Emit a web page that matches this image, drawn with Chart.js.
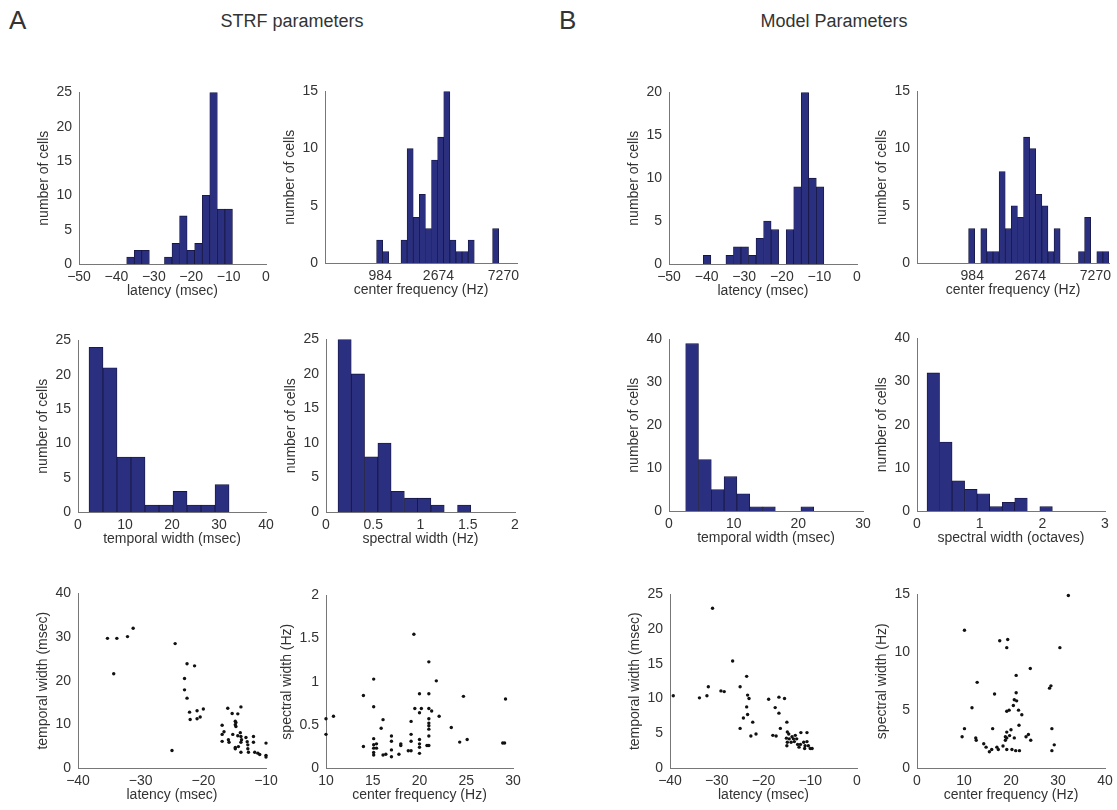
<!DOCTYPE html>
<html>
<head>
<meta charset="utf-8">
<script src="https://cdn.jsdelivr.net/npm/chart.js@4"></script>
<style>
body { margin:0; background:#fff; width:1117px; height:810px; position:relative; overflow:hidden;
       font-family:"Liberation Sans", Arial, sans-serif; color:#333; }
canvas { position:absolute; }
.lbl { position:absolute; white-space:nowrap; line-height:1; }
</style>
</head>
<body>
<div class="lbl" style="left:9px;top:7px;font-size:26px">A</div>
<div class="lbl" style="left:292px;top:12px;font-size:18px;transform:translateX(-50%)">STRF parameters</div>
<div class="lbl" style="left:559px;top:7px;font-size:26px">B</div>
<div class="lbl" style="left:834px;top:12px;font-size:18px;transform:translateX(-50%)">Model Parameters</div>
<script>
// ---- histogram data (bin centres and counts) ----
const strfLatCenters = [-36.24, -34.22, -32.2, -30.18, -28.16, -26.14, -24.12, -22.1, -20.08, -18.06, -16.04, -14.02, -12.0, -9.98];
const strfLatCounts  = [1, 2, 2, 0, 0, 1, 3, 7, 2, 3, 10, 25, 8, 8];

// frequency histograms use a log-frequency axis, one unit per bin
const freqTickPos    = [0.6, 10.13, 20.77];
const freqTickLabels = ['984', '2674', '7270'];
const strfFreqBins   = [0.5, 1.5, 2.5, 3.5, 4.5, 5.5, 6.5, 7.5, 8.5, 9.5, 10.5, 11.5, 12.5, 13.5, 14.5, 15.5, 16.5, 17.5, 18.5, 19.5];
const strfFreqCounts = [2, 1, 0, 0, 2, 10, 4, 6, 3, 9, 11, 15, 2, 1, 1, 2, 0, 0, 0, 3];

const modelLatCenters = [-39.87, -37.87, -35.86, -33.86, -31.86, -29.85, -27.85, -25.85, -23.84, -21.84, -19.84, -17.83, -15.83, -13.83, -11.82, -9.82];
const modelLatCounts  = [1, 0, 0, 1, 2, 2, 1, 3, 5, 4, 0, 4, 9, 20, 10, 9];

const modelFreqBins   = [0.5, 1.5, 2.5, 3.5, 4.5, 5.5, 6.5, 7.5, 8.5, 9.5, 10.5, 11.5, 12.5, 13.5, 14.5, 15.5, 16.5, 17.5, 18.5, 19.5, 20.5, 21.5, 22.5];
const modelFreqCounts = [3, 0, 3, 1, 1, 8, 3, 5, 4, 11, 10, 6, 5, 1, 3, 0, 0, 0, 1, 4, 0, 1, 1];

const strfTwCenters = [3.83, 6.81, 9.79, 12.77, 15.75, 18.73, 21.71, 24.69, 27.67, 30.65];
const strfTwCounts  = [24, 21, 8, 8, 1, 1, 3, 1, 1, 4];
const strfSwCenters = [0.197, 0.338, 0.478, 0.619, 0.759, 0.9, 1.04, 1.181, 1.321, 1.462];
const strfSwCounts  = [25, 20, 8, 10, 3, 2, 2, 1, 0, 1];

const modelTwCenters = [3.57, 5.55, 7.53, 9.51, 11.49, 13.47, 15.45, 17.43, 19.41, 21.39];
const modelTwCounts  = [39, 12, 5, 8, 4, 1, 1, 0, 0, 1];
const modelSwCenters = [0.26, 0.46, 0.66, 0.86, 1.06, 1.26, 1.46, 1.66, 1.86, 2.06];
const modelSwCounts  = [32, 16, 7, 5, 4, 1, 2, 3, 0, 1];

// ---- scatter data [x, y] ----
const strfLatVsTw = [
  [-35.3, 29.7], [-33.8, 29.7], [-32.1, 30.1], [-31.2, 32.0], [-34.3, 21.6], [-24.5, 28.5], [-25.0, 4.0],
  [-22.6, 23.9], [-21.4, 23.4], [-23.0, 20.5], [-23.0, 17.9], [-22.6, 16.0], [-22.2, 12.8], [-22.1, 11.1],
  [-21.0, 13.1], [-21.0, 11.3], [-20.5, 11.7], [-20.0, 13.5], [-16.1, 13.7], [-15.4, 12.5], [-14.5, 12.4],
  [-14.0, 14.0], [-17.0, 9.8], [-16.7, 8.3], [-17.0, 7.7], [-17.0, 6.1], [-16.0, 6.5], [-15.9, 5.9],
  [-15.3, 7.7], [-14.9, 10.7], [-14.9, 9.9], [-14.8, 10.4], [-14.8, 9.5], [-14.5, 7.4], [-14.9, 4.7],
  [-14.9, 4.4], [-14.4, 4.9], [-14.1, 8.1], [-14.0, 7.2], [-13.9, 6.5], [-14.0, 5.9], [-14.0, 3.6],
  [-13.2, 7.0], [-13.0, 6.0], [-12.9, 5.3], [-12.9, 4.4], [-12.8, 3.6], [-12.0, 7.2], [-12.0, 5.9],
  [-11.8, 3.6], [-11.3, 3.4], [-11.0, 3.1], [-10.0, 5.7], [-10.0, 2.9], [-10.0, 2.5]
];
const strfFreqVsSw = [
  [10.0, 0.57], [10.0, 0.39], [10.8, 0.60], [14.0, 0.84], [14.0, 0.25], [15.1, 1.03], [15.1, 0.71],
  [15.1, 0.34], [15.1, 0.27], [15.1, 0.23], [15.1, 0.18], [15.1, 0.15], [15.4, 0.23], [15.4, 0.28],
  [15.9, 0.46], [16.1, 0.56], [16.1, 0.15], [16.4, 0.16], [17.0, 0.37], [17.0, 0.31], [17.0, 0.21],
  [17.0, 0.13], [17.8, 0.16], [18.0, 0.28], [18.0, 0.26], [18.8, 0.20], [19.1, 0.54], [19.1, 0.39],
  [19.1, 0.31], [19.1, 0.20], [19.4, 1.55], [19.5, 0.69], [20.0, 0.86], [20.0, 0.64], [20.0, 0.33],
  [20.0, 0.28], [20.0, 0.24], [20.0, 0.17], [20.2, 0.69], [21.0, 1.23], [21.0, 0.86], [21.0, 0.69],
  [21.0, 0.57], [21.0, 0.52], [21.0, 0.49], [21.0, 0.45], [21.0, 0.37], [21.0, 0.26], [20.8, 0.26],
  [21.3, 0.66], [21.8, 1.01], [22.1, 0.60], [23.4, 0.47], [24.3, 0.30], [24.7, 0.83], [25.1, 0.33],
  [28.9, 0.29], [29.1, 0.29], [29.2, 0.80]
];
const modelLatVsTw = [
  [-39.3, 10.4], [-33.7, 10.1], [-32.1, 10.4], [-31.8, 11.7], [-30.9, 23.0], [-29.1, 11.1], [-28.4, 11.0],
  [-26.6, 15.4], [-25.0, 11.7], [-25.0, 5.7], [-23.6, 13.2], [-23.4, 10.5], [-23.1, 10.0], [-23.6, 8.8],
  [-23.4, 7.7], [-24.3, 7.2], [-22.3, 6.6], [-22.7, 4.6], [-21.6, 4.9], [-18.9, 9.9], [-16.7, 10.2],
  [-15.5, 10.0], [-17.5, 8.7], [-16.7, 7.9], [-16.4, 5.7], [-18.0, 4.7], [-17.3, 4.6], [-15.0, 6.6],
  [-14.9, 5.2], [-14.6, 4.9], [-15.1, 4.3], [-14.5, 4.2], [-13.9, 4.5], [-13.6, 4.2], [-13.2, 4.7],
  [-12.9, 4.2], [-14.9, 3.7], [-14.1, 3.7], [-13.4, 3.8], [-12.7, 3.4], [-12.1, 3.4], [-12.4, 3.0],
  [-11.4, 3.7], [-10.7, 3.8], [-10.7, 5.1], [-12.0, 5.1], [-11.1, 3.2], [-10.4, 3.2], [-10.0, 2.8],
  [-9.6, 2.8], [-11.2, 2.8], [-15.0, 3.2]
];
const modelFreqVsSw = [
  [10.1, 11.9], [9.6, 2.7], [10.1, 3.4], [11.7, 5.2], [12.8, 7.4], [12.5, 2.6], [12.6, 2.4], [14.2, 2.1],
  [14.7, 1.8], [15.4, 1.4], [15.9, 1.6], [16.1, 3.4], [16.5, 6.4], [17.0, 1.8], [17.3, 1.6], [17.6, 11.0],
  [18.3, 1.9], [18.8, 2.7], [18.8, 2.4], [19.1, 10.4], [19.3, 11.1], [19.1, 4.9], [19.6, 5.0], [19.1, 3.1],
  [19.1, 2.6], [19.1, 1.6], [19.7, 2.8], [20.0, 3.3], [20.2, 1.6], [20.5, 5.4], [20.7, 5.9], [20.7, 2.6],
  [21.0, 1.5], [21.1, 6.5], [21.1, 8.0], [21.2, 5.8], [21.6, 5.0], [21.7, 3.7], [21.8, 1.5], [22.3, 4.6],
  [23.2, 2.7], [23.7, 2.9], [24.1, 8.6], [24.2, 2.4], [28.2, 6.9], [28.5, 7.1], [28.7, 3.4], [28.7, 1.5],
  [29.2, 2.0], [32.2, 14.9], [30.4, 10.4]
];

// ---- styling ----
Chart.defaults.font.family = '"Liberation Sans", Arial, sans-serif';
Chart.defaults.font.size = 14;
Chart.defaults.color = '#333';
Chart.defaults.animation = false;

const barFill = '#2b2f80';
const barEdge = '#16173f';
const axisCol = '#777';
const minus = v => String(+(+v).toFixed(2)).replace('-', '\u2212');

function makeCanvas(box) {
  const yW = (box.gap || 35) + 12;
  const w = yW + (box.r - box.l) + 20;
  const h = 12 + (box.b - box.t) + 40;
  const c = document.createElement('canvas');
  c.width = w; c.height = h;
  c.style.left = (box.l - yW) + 'px';
  c.style.top = (box.t - 12) + 'px';
  c.style.width = w + 'px';
  c.style.height = h + 'px';
  document.body.appendChild(c);
  return { c, yW };
}

function scale(o, title, isX, yW) {
  const s = {
    type: 'linear',
    min: o.min, max: o.max,
    offset: false,
    grid: { display: false, drawTicks: false },
    border: { color: axisCol, width: 1 },
    ticks: { stepSize: o.step, padding: isX ? 5 : 7, color: '#333', autoSkip: false, maxRotation: 0,
             callback: v => minus(v) },
    title: { display: true, text: title, color: '#333', padding: 4 },
    afterFit: sc => { if (isX) sc.height = 40; else sc.width = yW; }
  };
  if (o.freq) {
    s.afterBuildTicks = sc => { sc.ticks = freqTickPos.map(v => ({ value: v })); };
    s.ticks.callback = (v, i) => freqTickLabels[i];
  }
  return s;
}

function draw(box, type, data, xo, yo, xt, yt) {
  const { c, yW } = makeCanvas(box);
  let ds;
  if (type === 'bar') {
    ds = { data, backgroundColor: barFill, borderColor: barEdge, borderWidth: 0.8,
           barPercentage: 1, categoryPercentage: 1 };
  } else {
    ds = { data, pointRadius: 1.7, backgroundColor: '#111', borderWidth: 0, clip: 4 };
  }
  new Chart(c, {
    type,
    data: { datasets: [ds] },
    options: {
      responsive: false,
      layout: { padding: { top: 12, right: 20, left: 0, bottom: 0 } },
      plugins: { legend: { display: false }, tooltip: { enabled: false } },
      scales: { x: scale(xo, xt, true, yW), y: scale(yo, yt, false, yW) }
    }
  });
}

const hist = (xs, ys) => xs.map((x, i) => ({ x, y: ys[i] }));
const pts = arr => arr.map(p => ({ x: p[0], y: p[1] }));
const nc = 'number of cells';

// row 1
draw({ l: 79, t: 89, r: 266, b: 264 }, 'bar', hist(strfLatCenters, strfLatCounts),
     { min: -50, max: 0, step: 10 }, { min: 0, max: 25, step: 5 }, 'latency (msec)', nc);
draw({ l: 325, t: 88, r: 517, b: 263 }, 'bar', hist(strfFreqBins, strfFreqCounts),
     { min: -8.45, max: 23, freq: true }, { min: 0, max: 15, step: 5 }, 'center frequency (Hz)', nc);
draw({ l: 669, t: 89, r: 857, b: 264 }, 'bar', hist(modelLatCenters, modelLatCounts),
     { min: -50, max: 0, step: 10 }, { min: 0, max: 20, step: 5 }, 'latency (msec)', nc);
draw({ l: 917, t: 88, r: 1109, b: 263 }, 'bar', hist(modelFreqBins, modelFreqCounts),
     { min: -8.45, max: 23, freq: true }, { min: 0, max: 15, step: 5 }, 'center frequency (Hz)', nc);

// row 2
draw({ l: 78, t: 337, r: 266, b: 512 }, 'bar', hist(strfTwCenters, strfTwCounts),
     { min: 0, max: 40, step: 10 }, { min: 0, max: 25, step: 5 }, 'temporal width (msec)', nc);
draw({ l: 326, t: 336, r: 515, b: 512 }, 'bar', hist(strfSwCenters, strfSwCounts),
     { min: 0, max: 2, step: 0.5 }, { min: 0, max: 25, step: 5 }, 'spectral width (Hz)', nc);
draw({ l: 669, t: 336, r: 863, b: 511 }, 'bar', hist(modelTwCenters, modelTwCounts),
     { min: 0, max: 30, step: 10 }, { min: 0, max: 40, step: 10 }, 'temporal width (msec)', nc);
draw({ l: 917, t: 335, r: 1105, b: 511 }, 'bar', hist(modelSwCenters, modelSwCounts),
     { min: 0, max: 3, step: 1 }, { min: 0, max: 40, step: 10 }, 'spectral width (octaves)', nc);

// row 3
draw({ l: 78, t: 590, r: 266, b: 768 }, 'scatter', pts(strfLatVsTw),
     { min: -40, max: -10, step: 10 }, { min: 0, max: 40, step: 10 }, 'latency (msec)', 'temporal width (msec)');
draw({ l: 326, t: 592, r: 513, b: 768, gap: 39 }, 'scatter', pts(strfFreqVsSw),
     { min: 10, max: 30, step: 5 }, { min: 0, max: 2, step: 0.5 }, 'center frequency (Hz)', 'spectral width (Hz)');
draw({ l: 670, t: 591, r: 857, b: 768 }, 'scatter', pts(modelLatVsTw),
     { min: -40, max: 0, step: 10 }, { min: 0, max: 25, step: 5 }, 'latency (msec)', 'temporal width (msec)');
draw({ l: 917, t: 591, r: 1105, b: 768 }, 'scatter', pts(modelFreqVsSw),
     { min: 0, max: 40, step: 10 }, { min: 0, max: 15, step: 5 }, 'center frequency (Hz)', 'spectral width (Hz)');
</script>
</body>
</html>
